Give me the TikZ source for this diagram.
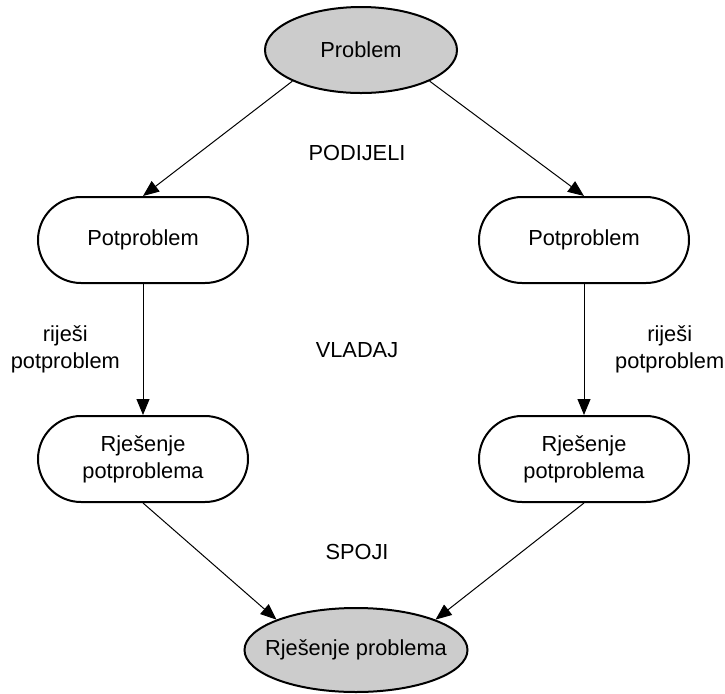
\documentclass[tikz,border=0pt]{standalone}
\usepackage{fontspec}
\setmainfont{Liberation Sans}
\usetikzlibrary{shapes.geometric,arrows.meta}
\begin{document}
\begin{tikzpicture}[x=0.5pt,y=-0.5pt,
    every node/.style={font=\fontsize{10.9}{13.5}\selectfont},
    kraj/.style={ellipse, draw, line width=1pt, fill=gray!40, inner sep=0pt},
    korak/.style={rectangle, draw, line width=1pt, rounded corners=21.5pt,
        minimum width=105pt, minimum height=43pt, align=center},
    strelica/.style={-{Triangle[length=8pt,width=6.5pt]}, line width=0.5pt}]
    \useasboundingbox (0,0) rectangle (725,693);
    \node[kraj, minimum width=96pt, minimum height=43pt] (prob) at (361,50) {Problem};
    \node[korak] (pp1) at (143,240) {Potproblem};
    \node[korak] (pp2) at (584,240) {Potproblem};
    \node[korak] (rj1) at (143,459) {Rješenje\\potproblema};
    \node[korak] (rj2) at (584,459) {Rješenje\\potproblema};
    \node[kraj, inner xsep=-6.5pt, minimum width=111.5pt, minimum height=42pt] (fin) at (356,650) {Rješenje problema};
    \node (podijeli) at (357,153) {PODIJELI};
    \node (vladaj) at (357,350) {VLADAJ};
    \node (spoji) at (357,552) {SPOJI};
    \draw[strelica] (prob.south west) -- (pp1.north);
    \draw[strelica] (prob.south east) -- (pp2.north);
    \draw[strelica] (pp1) -- node[left=8pt, align=center] {riješi\\potproblem} (rj1);
    \draw[strelica] (pp2) -- node[right=12pt, align=center] {riješi\\potproblem} (rj2);
    \draw[strelica] (rj1.south) -- (fin.north west);
    \draw[strelica] (rj2.south) -- (fin.north east);
\end{tikzpicture}
\end{document}
